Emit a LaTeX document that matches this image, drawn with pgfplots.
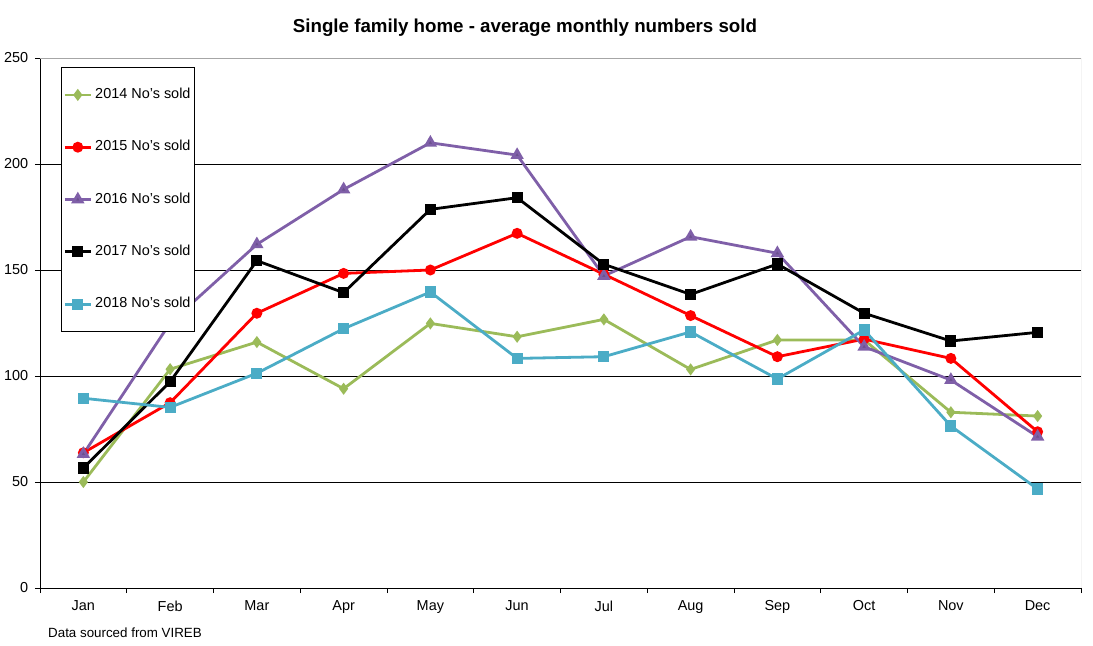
\documentclass[border=0pt]{standalone}
\usepackage{pgfplots}
\pgfplotsset{compat=1.18}
\usepackage{pgfplotstable}
\usepackage{fontspec}
\setmainfont{Liberation Sans}

\definecolor{ggreen}{HTML}{9BBB59}
\definecolor{rred}{HTML}{FF0000}
\definecolor{ppurple}{HTML}{7F5FA8}
\definecolor{tteal}{HTML}{4BACC6}

% monthly numbers sold, months at 0..11
\pgfplotstableread{
x  y14    y15    y16    y17    y18
0  50     63.8   63.2   56.6   89.5
1  103.2  87.4   125    97.3   85.2
2  116    129.6  162.1  154.4  101.3
3  94     148.4  188    139.3  122.3
4  124.8  150    210    178.6  139.6
5  118.5  167.3  204.2  184.1  108.3
6  126.7  148    147.2  152.7  109.1
7  103.1  128.5  165.7  138.5  120.8
8  117    109.1  157.9  152.8  98.6
9  117    117.4  113.8  129.6  121.7
10 82.9   108.3  98.1   116.5  76.4
11 81.1   73.7   71.4   120.6  46.7
}\sold

\begin{document}
\begin{tikzpicture}
\begin{axis}[
    at={(0,0)}, anchor=south west,
    scale only axis,
    width=1041bp, height=530bp,
    xmin=-0.5, xmax=11.5,
    ymin=0, ymax=250,
    axis x line=bottom, axis y line=left,
    axis line style={-, black, line width=0.8bp},
    xtick={0,...,11},
    xticklabels={Jan,Feb,Mar,Apr,May,Jun,Jul,Aug,Sep,Oct,Nov,Dec},
    major x tick style={draw=none},
    minor xtick={-0.5,0.5,...,11.5},
    ytick={0,50,...,250},
    tick align=outside,
    major tick length=5bp, minor tick length=5bp,
    tick style={black, line width=0.8bp},
    ymajorgrids,
    grid style={black, line width=0.7bp},
    ticklabel style={font=\fontsize{14.5}{16}\selectfont},
    xticklabel style={yshift=-3bp},
    yticklabel style={xshift=-2bp},
    /pgf/number format/assume math mode=true,
    line width=2.8bp,
    legend cell align=left,
    legend image code/.code={
        \draw[line width=2.8bp, mark repeat=2, mark phase=2] plot coordinates {(0bp,0bp) (13bp,0bp) (26bp,0bp)};
    },
    legend style={
        at={(0.0202,0.983)}, anchor=north west,
        draw=black, line width=0.8bp,
        inner xsep=2bp, inner ysep=19bp,
        row sep=35.3bp, column sep=1bp,
        font=\fontsize{14.5}{16}\selectfont,
        nodes={text height=10bp, text depth=3bp, inner sep=2bp},
    },
]
\addplot[ggreen, mark=diamond*, mark size=3.8bp, mark options={solid, fill=ggreen}] table[x=x, y=y14] {\sold};
\addplot[rred, mark=*, mark size=4bp, mark options={solid, fill=rred}] table[x=x, y=y15] {\sold};
\addplot[ppurple, mark=triangle*, mark size=5bp, mark options={solid, fill=ppurple!85!black}] table[x=x, y=y16] {\sold};
\addplot[black, mark=square*, mark size=4.2bp, mark options={solid, fill=black}] table[x=x, y=y17] {\sold};
\addplot[tteal, mark=square*, mark size=4.2bp, mark options={solid, fill=tteal}] table[x=x, y=y18] {\sold};
\legend{2014 No's sold, 2015 No's sold, 2016 No's sold, 2017 No's sold, 2018 No's sold}
\draw[gray!70, line width=0.8bp] (rel axis cs:0,1) -- (rel axis cs:1,1) -- (rel axis cs:1,0);
\end{axis}
\node[font=\bfseries\fontsize{18.8}{21}\selectfont] at (485bp,560bp) {Single family home - average monthly numbers sold};
\node[font=\fontsize{13.4}{15}\selectfont, anchor=west, inner sep=0pt] at (8bp,-45bp) {Data sourced from VIREB};
\pgfresetboundingbox
\path (-40bp,-58bp) rectangle (1053bp,588bp);
\end{tikzpicture}
\end{document}
